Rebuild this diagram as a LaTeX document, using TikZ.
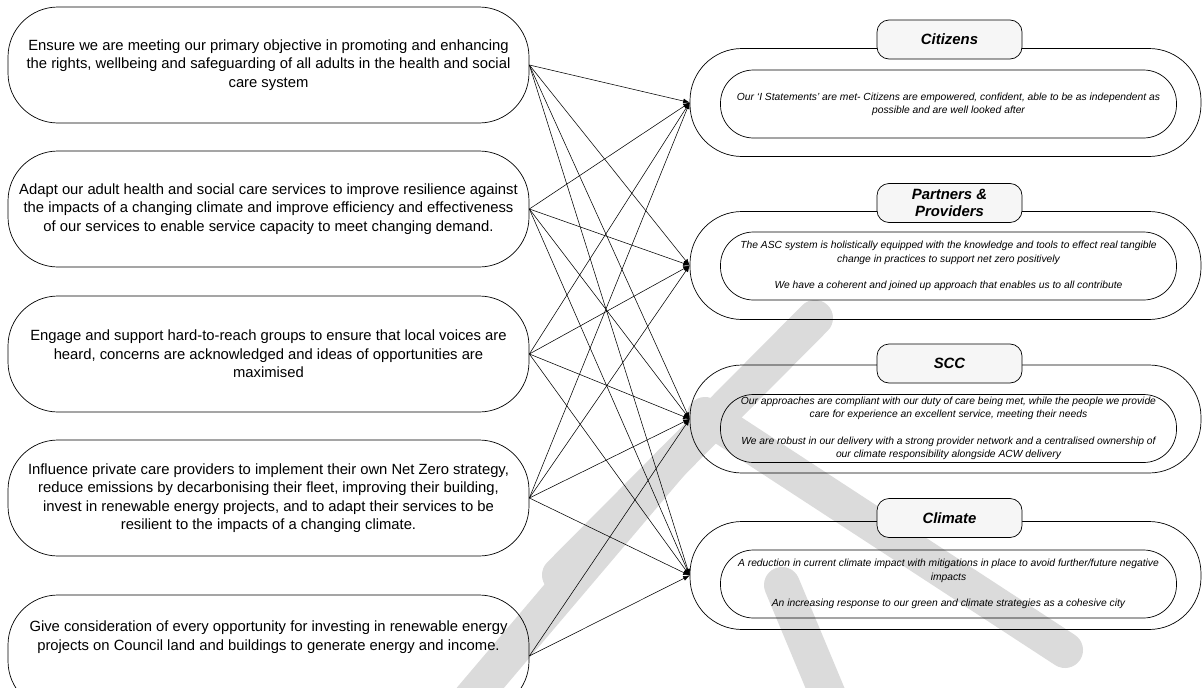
\documentclass[tikz,border=0pt]{standalone}
\usepackage{fontspec}
\setmainfont{Liberation Sans}
\usetikzlibrary{arrows.meta}

\begin{document}
\begin{tikzpicture}[x=1pt, y=-1pt, >={Latex[length=6.5pt,width=5pt]},
	aim/.style={draw, line width=0.7pt, rounded corners=50pt, minimum width=521pt, minimum height=116pt, inner sep=0pt, align=center, font=\fontsize{14.8}{18.5}\selectfont},
	aimtext/.style={inner sep=0pt, align=center, font=\fontsize{14.8}{18.5}\selectfont},
	ring/.style={draw, line width=0.7pt, rounded corners=52pt, minimum width=511pt, minimum height=108pt},
	heading/.style={draw, line width=0.7pt, fill=gray!7, rounded corners=12pt, minimum width=145pt, minimum height=39pt, inner sep=0pt, align=center, font=\fontsize{14.9}{17.3}\selectfont\bfseries\itshape},
	outcome/.style={draw, line width=0.7pt, rounded corners=33pt, minimum width=456pt, minimum height=68pt, inner sep=0pt, align=center, font=\fontsize{10.3}{13.3}\selectfont\itshape},
	link/.style={->, line width=0.55pt},
	stamp/.style={draw=black!14, line width=36pt, line cap=round}]
	\fill[white] (0,0) rectangle (1203,688);
	\useasboundingbox (0,0) rectangle (1203,688);

	\draw [stamp] (815,318) -- (560,575);
	\draw [stamp] (705,415) -- (1065,650);
	\draw [stamp] (672,462) -- (470,700);
	\draw [stamp] (782,585) -- (830,700);

	\node at (268.5,65) [aim] (a1) {Ensure we are meeting our primary objective in promoting and enhancing\\the rights, wellbeing and safeguarding of all adults in the health and social\\care system};
	\node at (268.5,209) [aim] (a2) {Adapt our adult health and social care services to improve resilience against\\the impacts of a changing climate and improve efficiency and effectiveness\\of our services to enable service capacity to meet changing demand.};
	\node at (268.5,354) [aim] (a3) {Engage and support hard-to-reach groups to ensure that local voices are\\heard, concerns are acknowledged and ideas of opportunities are\\maximised};
	\node at (268.5,498) [aim] (a4) {Influence private care providers to implement their own Net Zero strategy,\\reduce emissions by decarbonising their fleet, improving their building,\\invest in renewable energy projects, and to adapt their services to be\\resilient to the impacts of a changing climate.};
	\node at (268.5,653) [aim] (a5) {};
	\node at (268.5,637) [aimtext] (a5t) {Give consideration of every opportunity for investing in renewable energy\\projects on Council land and buildings to generate energy and income.};

	\node at (945.5,102.5) [ring] (cit) {};
	\node at (949.5,39.5) [heading] (t1) {Citizens};
	\node at (948.5,104) [outcome] (i1) {Our `I Statements' are met- Citizens are empowered, confident, able to be as independent as\\possible and are well looked after};

	\node at (945.5,265.5) [ring] (par) {};
	\node at (949.5,203) [heading] (t2) {Partners \&\\Providers};
	\node at (948.5,266) [outcome] (i2) {The ASC system is holistically equipped with the knowledge and tools to effect real tangible\\change in practices to support net zero positively\\[13.3pt]We have a coherent and joined up approach that enables us to all contribute};

	\node at (945.5,419) [ring] (scc) {};
	\node at (949.5,363.5) [heading] (t3) {SCC};
	\node at (948.5,428.5) [outcome] (i3) {Our approaches are compliant with our duty of care being met, while the people we provide\\care for experience an excellent service, meeting their needs\\[13.3pt]We are robust in our delivery with a strong provider network and a centralised ownership of\\our climate responsibility alongside ACW delivery};

	\node at (945.5,575.5) [ring] (cli) {};
	\node at (949.5,518) [heading] (t4) {Climate};
	\node at (948.5,584) [outcome] (i4) {A reduction in current climate impact with mitigations in place to avoid further/future negative\\impacts\\[13.3pt]An increasing response to our green and climate strategies as a cohesive city};

	\draw [link] (a1.east) -- (cit.west);
	\draw [link] (a1.east) -- (par.west);
	\draw [link] (a1.east) -- (scc.west);
	\draw [link] (a1.east) -- (cli.west);
	\draw [link] (a2.east) -- (cit.west);
	\draw [link] (a2.east) -- (par.west);
	\draw [link] (a2.east) -- (scc.west);
	\draw [link] (a2.east) -- (cli.west);
	\draw [link] (a3.east) -- (cit.west);
	\draw [link] (a3.east) -- (par.west);
	\draw [link] (a3.east) -- (scc.west);
	\draw [link] (a3.east) -- (cli.west);
	\draw [link] (a4.east) -- (cit.west);
	\draw [link] (a4.east) -- (par.west);
	\draw [link] (a4.east) -- (scc.west);
	\draw [link] (a4.east) -- (cli.west);
	\draw [link] ([yshift=-3pt]a5.east) -- (scc.west);
	\draw [link] ([yshift=-3pt]a5.east) -- (cli.west);
\end{tikzpicture}
\end{document}
